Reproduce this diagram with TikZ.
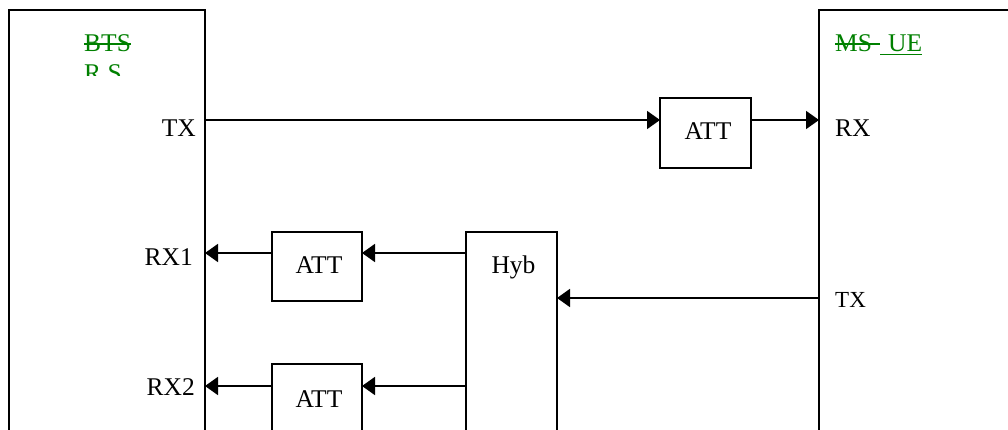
\documentclass[tikz,border=0pt]{standalone}
\usepackage{fontspec}
\setmainfont{Liberation Serif}
\usetikzlibrary{arrows.meta}
\definecolor{tgreen}{RGB}{0,128,0}
\begin{document}
\begin{tikzpicture}[x=1pt,y=-1pt,
  box/.style={draw,line width=1.8pt,inner sep=0pt,outer sep=0pt,anchor=north west},
  lbl/.style={inner sep=0pt,font=\fontsize{25.5pt}{30pt}\selectfont},
  glbl/.style={lbl,text=tgreen},
  arr/.style={line width=1.8pt,-{Triangle[length=13pt,width=18pt]}},
  gline/.style={draw=tgreen,line width=1.8pt}]
\useasboundingbox (0,0) rectangle (1008,430);
\clip (0,0) rectangle (1008,430);
% boxes
\node[box,minimum width=196pt,minimum height=440pt] (bs) at (9,10) {};
\node[box,minimum width=300pt,minimum height=440pt] (ue) at (819,10) {};
\node[box,minimum width=91pt,minimum height=70pt] (att0) at (660,98) {};
\node[box,minimum width=90pt,minimum height=69pt] (att1) at (272,232) {};
\node[box,minimum width=90pt,minimum height=100pt] (att2) at (272,364) {};
\node[box,minimum width=91pt,minimum height=220pt] (hyb) at (466,232) {};
% box texts
\node[lbl,anchor=base] (att0t) at (708,140) {ATT};
\node[lbl,anchor=base] (att1t) at (319,273) {ATT};
\node[lbl,anchor=base] (att2t) at (319,407) {ATT};
\node[lbl,anchor=base] (hybt) at (513.5,273) {Hyb};
% port labels
\node[lbl,anchor=base east] (tx1) at (196,137) {TX};
\node[lbl,anchor=base east] (rx1) at (193,265) {RX1};
\node[lbl,anchor=base east] (rx2) at (195,395) {RX2};
\node[lbl,anchor=base west] (rx) at (835,137) {RX};
\node[lbl,anchor=base west,font=\fontsize{23pt}{28pt}\selectfont] (tx2) at (835,307) {TX};
% green labels
\node[glbl,anchor=base west] (bts) at (84,52) {BTS};
\draw[gline] ([yshift=8pt]bts.base west) -- ([yshift=8pt]bts.base east);
\begin{scope}
\clip (0,0) rectangle (1008,76);
\node[glbl,anchor=base west] (rs) at (84,82) {R S};
\end{scope}
\node[glbl,anchor=base west] (ms) at (835,52) {MS};
\draw[gline] ([yshift=8pt]ms.base west) -- ([xshift=8pt,yshift=8pt]ms.base east);
\node[glbl,anchor=base west] (uet) at (888,52) {UE};
\draw[gline] ([xshift=-8pt,yshift=-2.5pt]uet.base west) -- ([yshift=-2.5pt]uet.base east);
% rows
\coordinate (y1) at (0,120);
\coordinate (y2) at (0,253);
\coordinate (y3) at (0,298);
\coordinate (y4) at (0,386);
% connectors
\draw[arr] (bs.east |- y1) -- (att0.west |- y1);
\draw[arr] (att0.east |- y1) -- (ue.west |- y1);
\draw[arr] (hyb.west |- y2) -- (att1.east |- y2);
\draw[arr] (att1.west |- y2) -- (bs.east |- y2);
\draw[arr] (ue.west |- y3) -- (hyb.east |- y3);
\draw[arr] (hyb.west |- y4) -- (att2.east |- y4);
\draw[arr] (att2.west |- y4) -- (bs.east |- y4);
\end{tikzpicture}
\end{document}
